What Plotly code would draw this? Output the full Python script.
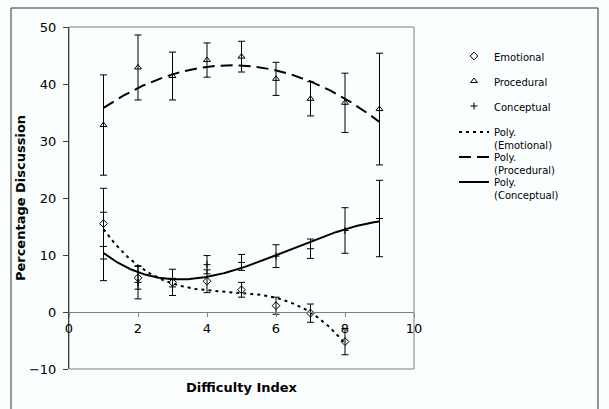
import numpy as np
import plotly.graph_objects as go

# ---- data ----
difficulty = [1, 2, 3, 4, 5, 6, 7, 8, 9]
emotional_x = [1, 2, 3, 4, 5, 6, 7, 8]
emotional = [15.5, 6.0, 5.2, 5.4, 3.9, 1.1, -0.2, -5.2]
emotional_err = [6.2, 2.0, 2.3, 2.0, 1.3, 1.5, 1.6, 2.3]
procedural = [32.8, 42.9, 41.4, 44.2, 44.8, 40.9, 37.4, 36.7, 35.6]
procedural_err = [8.8, 5.7, 4.2, 3.0, 2.7, 2.9, 3.0, 5.2, 9.8]
conceptual = [11.5, 5.2, 4.4, 8.3, 8.7, 9.8, 11.1, 14.3, 16.4]
conceptual_err = [6.0, 2.9, 1.5, 1.6, 1.4, 2.0, 1.7, 4.0, 6.7]
x_ticks = [0, 2, 4, 6, 8, 10]
y_ticks = [-10, 0, 10, 20, 30, 40, 50]
poly_order_emotional = 3
poly_order_procedural = 2
poly_order_conceptual = 3

FONT = "DejaVu Sans"
INK = "#000000"


def trend(x, y, order):
    coeffs = np.polyfit(x, y, order)
    xs = np.linspace(min(x), max(x), 200)
    return xs, np.polyval(coeffs, xs)


fig = go.Figure()

err_style = dict(type="data", visible=True, color=INK, thickness=1, width=3.5)

fig.add_trace(go.Scatter(
    x=emotional_x, y=emotional, mode="markers", name="Emotional",
    legendgroup="g1", legend="legend",
    marker=dict(symbol="diamond-open", size=6, color=INK, line=dict(width=1, color=INK)),
    error_y=dict(array=emotional_err, **err_style)))
fig.add_trace(go.Scatter(
    x=difficulty, y=procedural, mode="markers", name="Procedural",
    legendgroup="g2", legend="legend",
    marker=dict(symbol="triangle-up-open", size=6, color=INK, line=dict(width=1, color=INK)),
    error_y=dict(array=procedural_err, **err_style)))
fig.add_trace(go.Scatter(
    x=difficulty, y=conceptual, mode="markers", name="Conceptual",
    legendgroup="g3", legend="legend",
    marker=dict(symbol="cross-thin", size=5, color=INK, line=dict(width=1, color=INK)),
    error_y=dict(array=conceptual_err, **err_style)))

ex, ey = trend(emotional_x, emotional, poly_order_emotional)
px_, py_ = trend(difficulty, procedural, poly_order_procedural)
cx, cy = trend(difficulty, conceptual, poly_order_conceptual)

fig.add_trace(go.Scatter(x=ex, y=ey, mode="lines", name="Poly.<br>(Emotional)",
                         legend="legend2", hoverinfo="skip",
                         line=dict(color=INK, width=2, dash="3px,4px")))
fig.add_trace(go.Scatter(x=px_, y=py_, mode="lines", name="Poly.<br>(Procedural)",
                         legend="legend3", hoverinfo="skip",
                         line=dict(color=INK, width=2, dash="12px,6px")))
fig.add_trace(go.Scatter(x=cx, y=cy, mode="lines", name="Poly.<br>(Conceptual)",
                         legend="legend4", hoverinfo="skip",
                         line=dict(color=INK, width=2)))

# placeholder trace so the bottom (title-carrying) x axis is drawn
fig.add_trace(go.Scatter(x=[None], y=[None], xaxis="x2", yaxis="y",
                         showlegend=False, hoverinfo="skip", mode="markers"))

W, H = 609, 409
L, R, T, B = 69, 195, 27, 40
pw, ph = W - L - R, H - T - B


def px2x(p):
    return (p - L) / pw


def px2y(p):
    return (H - B - p) / ph


LEG_LEFT = 454


def legend_at(top_px, gap=0):
    return dict(x=px2x(LEG_LEFT), y=px2y(top_px), xanchor="left", yanchor="top",
                font=dict(family=FONT, size=10, color=INK),
                bgcolor="rgba(0,0,0,0)", tracegroupgap=gap, valign="top")


fig.update_layout(
    width=W, height=H,
    margin=dict(l=L, r=R, t=T, b=B, autoexpand=False),
    paper_bgcolor="#FAFEFE", plot_bgcolor="#FAFEFE",
    font=dict(family=FONT, size=13, color=INK),
    showlegend=True,
    legend=legend_at(43, gap=6),
    legend2=legend_at(119),
    legend3=legend_at(144),
    legend4=legend_at(169),
    xaxis=dict(range=[0, 10], tickvals=x_ticks, anchor="free", position=1 / 6,
               showline=True, linecolor="#808080", linewidth=1,
               ticks="outside", ticklen=4, tickcolor="#808080",
               showgrid=False, zeroline=False,
               tickfont=dict(family=FONT, size=13, color=INK)),
    xaxis2=dict(range=[0, 10], overlaying="x", anchor="y", side="bottom",
                showticklabels=False, ticks="", showline=False, showgrid=False,
                zeroline=False,
                title=dict(text="<b>Difficulty Index</b>", standoff=13,
                           font=dict(family=FONT, size=13, color=INK))),
    yaxis=dict(range=[-10, 50], tickvals=y_ticks,
               showline=True, linecolor="#404040", linewidth=1,
               ticks="outside", ticklen=5, tickcolor="#404040",
               ticklabelstandoff=4,
               showgrid=False, zeroline=False,
               tickfont=dict(family=FONT, size=13, color=INK),
               title=dict(text="<b>Percentage Discussion</b>", standoff=0,
                          font=dict(family=FONT, size=13, color=INK))),
    shapes=[
        dict(type="rect", xref="paper", yref="paper", x0=0, x1=1, y0=0, y1=1,
             line=dict(color="#808080", width=1), layer="below"),
        dict(type="rect", xref="paper", yref="paper",
             x0=px2x(11), x1=px2x(598), y0=px2y(440), y1=px2y(8),
             line=dict(color="#333333", width=1), layer="below"),
    ],
)

fig.write_html("out.html",
               config={"displayModeBar": False},
               post_script="document.body.style.margin='0';"
                           "document.body.style.background='#FAFEFE';")
